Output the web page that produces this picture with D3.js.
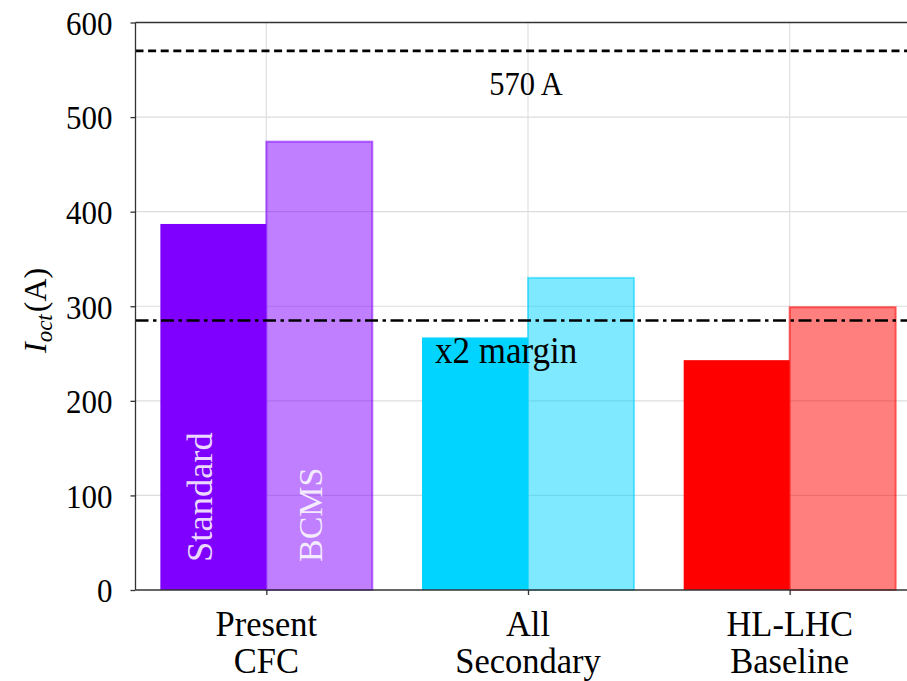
<!DOCTYPE html>
<html>
<head>
<meta charset="utf-8">
<script src="https://cdn.jsdelivr.net/npm/d3@7"></script>
<style>
  html, body { margin: 0; padding: 0; background: #ffffff; }
  svg { display: block; }
</style>
</head>
<body>
<div id="chart"></div>
<script>
// Octupole current needed per scenario, two collimator options each
const categories = [["Present", "CFC"], ["All", "Secondary"], ["HL-LHC", "Baseline"]];
const standardValues = [387, 267, 243];
const bcmsValues = [474, 330, 299];
const baseColors = ["#7f00ff", "#00d4ff", "#ff0000"];
const yTicks = [0, 100, 200, 300, 400, 500, 600];
const limitValue = 570;             // octupole current limit
const marginValue = limitValue / 2; // factor-two margin

const W = 907, H = 681;
const plot = { left: 135.5, right: 920.5, top: 22.5, bottom: 590 };
const serif = "'Liberation Serif', 'DejaVu Serif', serif";

const svg = d3.select("#chart").append("svg")
  .attr("width", W).attr("height", H)
  .attr("font-family", serif);

const x = d3.scaleLinear().domain([-0.5, 2.5]).range([plot.left, plot.right]);
const y = d3.scaleLinear().domain([0, 600]).range([plot.bottom, plot.top]);
const barW = 0.405;

// grid
const grid = svg.append("g").attr("stroke", "#dcdcdc").attr("stroke-width", 1.1);
grid.selectAll("line.h").data(yTicks.slice(1, -1)).join("line")
  .attr("x1", plot.left).attr("x2", plot.right)
  .attr("y1", d => y(d)).attr("y2", d => y(d));
grid.selectAll("line.v").data(d3.range(categories.length)).join("line")
  .attr("y1", plot.top).attr("y2", plot.bottom)
  .attr("x1", d => x(d)).attr("x2", d => x(d));

// bars: solid Standard on the left, translucent BCMS on the right
const bars = svg.append("g");
bars.selectAll("rect.std").data(standardValues).join("rect")
  .attr("x", (d, i) => x(i - barW)).attr("width", x(barW) - x(0))
  .attr("y", d => y(d)).attr("height", d => y(0) - y(d))
  .attr("fill", (d, i) => baseColors[i]);
bars.selectAll("rect.bcms").data(bcmsValues).join("rect")
  .attr("x", (d, i) => x(i)).attr("width", x(barW) - x(0))
  .attr("y", d => y(d)).attr("height", d => y(0) - y(d))
  .attr("fill", (d, i) => baseColors[i]).attr("fill-opacity", 0.5)
  .attr("stroke", (d, i) => baseColors[i]).attr("stroke-opacity", 0.55)
  .attr("stroke-width", 2);

// reference lines
svg.append("line")
  .attr("x1", plot.left).attr("x2", plot.right)
  .attr("y1", y(limitValue)).attr("y2", y(limitValue))
  .attr("stroke", "#000").attr("stroke-width", 2.6).attr("stroke-dasharray", "8,4.6");
svg.append("line")
  .attr("x1", plot.left).attr("x2", plot.right)
  .attr("y1", y(marginValue)).attr("y2", y(marginValue))
  .attr("stroke", "#000").attr("stroke-width", 2.6).attr("stroke-dasharray", "13,4.5,3.5,4.5");

// frame
const frame = svg.append("g").attr("stroke", "#333").attr("stroke-width", 1.3).attr("fill", "none");
frame.append("line").attr("x1", plot.left).attr("x2", plot.left).attr("y1", plot.top).attr("y2", plot.bottom);
frame.append("line").attr("x1", plot.left).attr("x2", plot.right).attr("y1", plot.top).attr("y2", plot.top);
frame.append("line").attr("x1", plot.left).attr("x2", plot.right).attr("y1", plot.bottom).attr("y2", plot.bottom);

// y axis
const yAxis = svg.append("g").attr("transform", `translate(${plot.left},0)`)
  .call(d3.axisLeft(y).tickValues(yTicks).tickSize(5).tickPadding(18).tickFormat(d3.format("d")));
yAxis.attr("font-family", serif);
yAxis.select(".domain").remove();
yAxis.selectAll(".tick line").attr("stroke", "#333").attr("stroke-width", 1.3);
yAxis.selectAll(".tick text")
  .attr("font-size", 31).attr("fill", "#000")
  .attr("dy", "0.34em")
  .attr("transform", "scale(1,1.12)");

// x axis
const xAxis = svg.append("g").attr("transform", `translate(0,${plot.bottom})`)
  .call(d3.axisBottom(x).tickValues(d3.range(categories.length)).tickSize(5).tickFormat(""));
xAxis.select(".domain").remove();
xAxis.selectAll(".tick line").attr("stroke", "#333").attr("stroke-width", 1.3);

// two-line category labels
const catG = svg.append("g");
categories.forEach((lines, i) => {
  const t = catG.append("text")
    .attr("transform", `translate(${x(i)},636) scale(1,1.06)`)
    .attr("text-anchor", "middle").attr("font-size", 34.5).attr("fill", "#000");
  lines.forEach((s, k) => {
    t.append("tspan").attr("x", 0).attr("y", k * 35).text(s);
  });
});

// annotations
svg.append("text")
  .attr("transform", `translate(${x(1) - 2},95) scale(1,1.1)`)
  .attr("text-anchor", "middle").attr("font-size", 30.5).attr("fill", "#000")
  .text(limitValue + " A");
svg.append("text")
  .attr("transform", `translate(${x(1) - 93},363) scale(1,1.1)`)
  .attr("font-size", 35).attr("fill", "#000").text("x2 margin");

// in-bar series names
svg.append("text")
  .attr("transform", `translate(${x(-barW / 2) - 1},562) rotate(-90)`)
  .attr("font-size", 36.5).attr("fill", "#ffffff").attr("fill-opacity", 0.85).text("Standard");
svg.append("text")
  .attr("transform", `translate(${x(barW / 2) + 3},562) rotate(-90)`)
  .attr("font-size", 34).attr("fill", "#ffffff").attr("fill-opacity", 0.85).text("BCMS");

// y label: I_oct(A)
const yl = svg.append("text")
  .attr("transform", "translate(46,353) rotate(-90)")
  .attr("font-size", 32).attr("fill", "#000");
yl.append("tspan").attr("font-style", "italic").text("I");
yl.append("tspan").attr("font-style", "italic").attr("font-size", 23).attr("dy", 6).text("oct");
yl.append("tspan").attr("dx", 2).attr("dy", -6).text("(A)");
</script>
</body>
</html>
